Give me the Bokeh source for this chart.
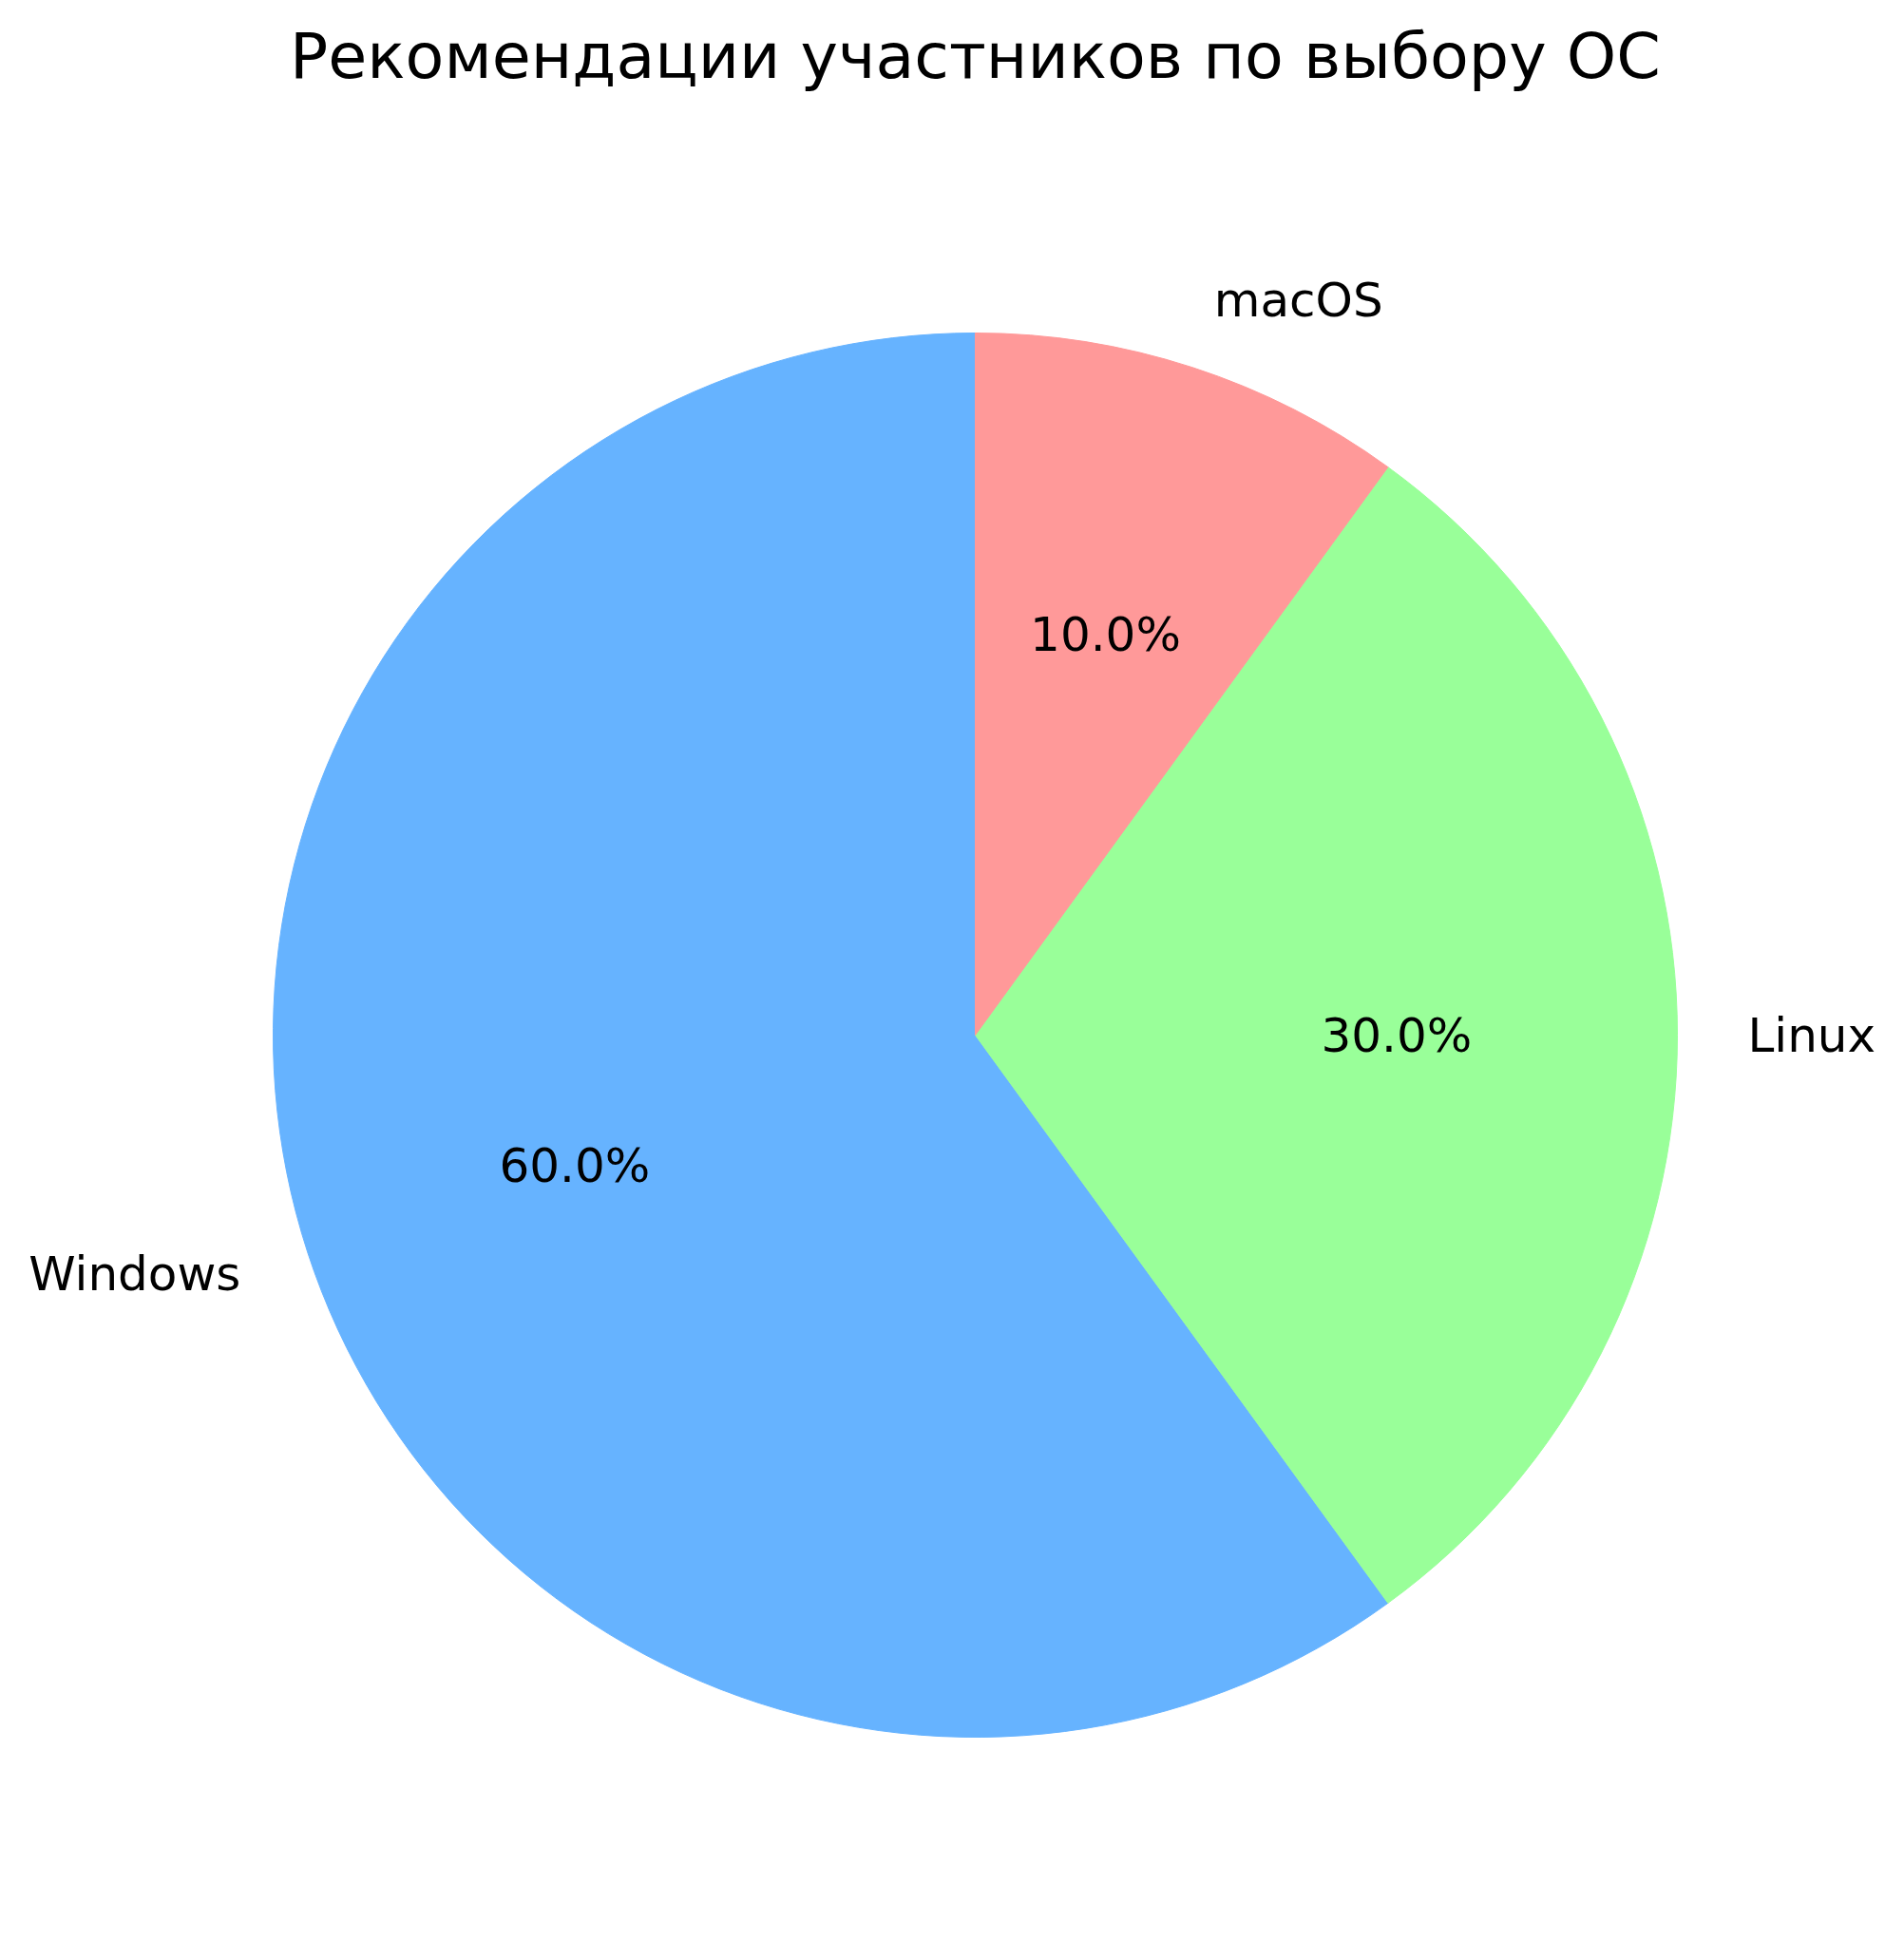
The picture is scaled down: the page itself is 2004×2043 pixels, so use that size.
import math
from bokeh.plotting import figure
from bokeh.models import Range1d, ColumnDataSource
from bokeh.core.properties import value
from bokeh.embed import file_html
from bokeh.resources import INLINE

# Data
categories = ["Windows", "Linux", "macOS"]
shares = [60, 30, 10]
colors = ["#66b3ff", "#99ff99", "#ff9999"]
title_text = "Рекомендации участников по выбору ОС"

# Layout (pixels)
W, H = 2004, 2043
CX, CY = 1026, 1089      # pie centre, pixels from top-left
R = 739                  # pie radius in pixels
TITLE_Y = 58             # title vertical centre, pixels from top
FONT = "DejaVu Sans"

total = float(sum(shares))
start = math.pi / 2
starts, ends, lx, ly, px, py, aligns, pct = [], [], [], [], [], [], [], []
for v in shares:
    sweep = 2 * math.pi * v / total
    s, e = start, start + sweep
    mid = (s + e) / 2
    starts.append(s)
    ends.append(e)
    lx.append(1.1 * math.cos(mid))
    ly.append(1.1 * math.sin(mid))
    px.append(0.6 * math.cos(mid))
    py.append(0.6 * math.sin(mid))
    aligns.append("right" if math.cos(mid) < 0 else "left")
    pct.append(f"{100 * v / total:.1f}%")
    start = e

src = ColumnDataSource(dict(cat=categories, start=starts, end=ends, color=colors,
                            lx=lx, ly=ly, px=px, py=py, align=aligns, pct=pct))

p = figure(width=W, height=H, output_backend="svg", toolbar_location=None,
           x_range=Range1d(-CX / R, (W - CX) / R),
           y_range=Range1d(-(H - CY) / R, CY / R),
           min_border=0, tools="")
p.axis.visible = False
p.grid.visible = False
p.outline_line_color = None
p.background_fill_color = "white"
p.border_fill_color = "white"

p.wedge(x=0, y=0, radius=1, start_angle="start", end_angle="end",
        fill_color="color", line_color="color", line_width=1, source=src)

p.text(x="lx", y="ly", text="cat", text_align="align", text_baseline="middle",
       text_font=value(FONT), text_font_size="50px", text_color="black", source=src)
p.text(x="px", y="py", text="pct", text_align="center", text_baseline="middle",
       text_font=value(FONT), text_font_size="50px", text_color="black", source=src)

p.text(x=[0], y=[(CY - TITLE_Y) / R], text=[title_text], text_align="center",
       text_baseline="middle", text_font=value(FONT), text_font_size="66.7px",
       text_color="black")

open("out.html", "w").write(file_html(p, INLINE))
